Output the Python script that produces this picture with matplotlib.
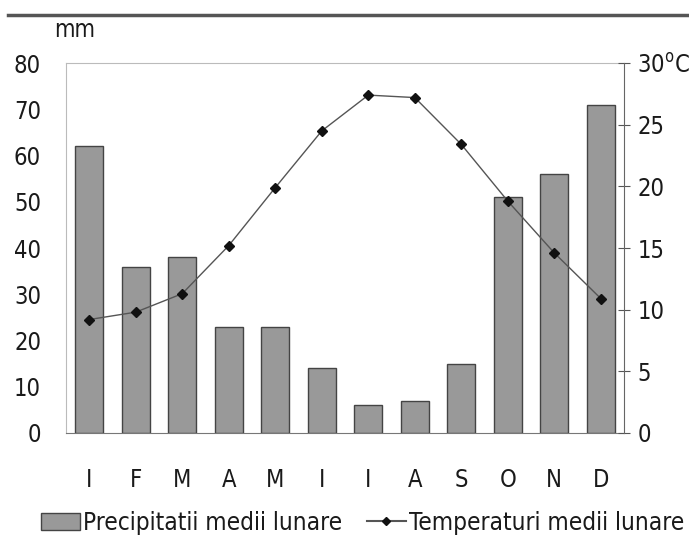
import matplotlib
matplotlib.use("Agg")
import matplotlib.pyplot as plt
from matplotlib.lines import Line2D
from matplotlib.patches import Patch

plt.rcParams['font.family'] = ['DejaVu Sans']
plt.rcParams['font.stretch'] = 'condensed'
plt.rcParams['text.color'] = '#1a1a1a'
plt.rcParams['xtick.color'] = '#1a1a1a'
plt.rcParams['ytick.color'] = '#1a1a1a'

months = ['I', 'F', 'M', 'A', 'M', 'I', 'I', 'A', 'S', 'O', 'N', 'D']
precip = [62, 36, 38, 23, 23, 14, 6, 7, 15, 51, 56, 71]
temp = [9.2, 9.8, 11.3, 15.2, 19.9, 24.5, 27.4, 27.2, 23.4, 18.8, 14.6, 10.9]
left_ticks = [0, 10, 20, 30, 40, 50, 60, 70, 80]
right_ticks = [0, 5, 10, 15, 20, 25, 30]

FS = 17

fig = plt.figure(figsize=(6.89, 5.53), dpi=100)
ax = fig.add_axes([0.0958, 0.217, 0.81, 0.669])
x = list(range(len(months)))
ax.bar(x, precip, width=0.6, color='#999999', edgecolor='#444444', linewidth=1.0, zorder=2)
ax.set_xlim(-0.5, 11.5)
ax.set_ylim(0, 80)
ax.set_yticks(left_ticks)
ax.set_yticklabels([str(t) for t in left_ticks], fontsize=FS)
ax.tick_params(axis='y', length=0, pad=18)
ax.set_xticks(x)
ax.set_xticklabels(months, fontsize=FS)
ax.tick_params(axis='x', length=0, pad=25)
for s in ['left', 'top']:
    ax.spines[s].set_color('#bbbbbb')
ax.spines['right'].set_visible(False)
ax.spines['bottom'].set_color('#777777')

ax2 = ax.twinx()
ax2.plot(x, temp, color='#555555', linewidth=1.0, marker='D', markersize=5,
         markerfacecolor='#111111', markeredgecolor='#111111', zorder=3)
ax2.set_ylim(0, 30)
ax2.set_yticks(right_ticks)
ax2.set_yticklabels([str(t) for t in right_ticks[:-1]] + ['30$^{\\mathrm{o}}$C'], fontsize=FS)
ax2.tick_params(axis='y', direction='inout', length=9, color='#555555', pad=5)
ax2.spines['right'].set_color('#666666')
for s in ['left', 'top', 'bottom']:
    ax2.spines[s].set_visible(False)

fig.text(0.078, 0.945, 'mm', fontsize=FS, ha='left', va='center')

fig.add_artist(Line2D([0.012, 1.0], [0.973, 0.973], color='#555555', linewidth=2.5))

handles = [Patch(facecolor='#999999', edgecolor='#444444', label='Precipitatii medii lunare'),
           Line2D([0], [0], color='#555555', marker='D', markersize=4, markerfacecolor='#111111',
                  markeredgecolor='#111111', label='Temperaturi medii lunare')]
fig.legend(handles=handles, loc='center left', bbox_to_anchor=(0.045, 0.055), ncol=2, frameon=False,
           fontsize=17.5, handlelength=1.6, handletextpad=0.15, columnspacing=1.0, borderaxespad=0)

fig.savefig('out.png', dpi=100)
